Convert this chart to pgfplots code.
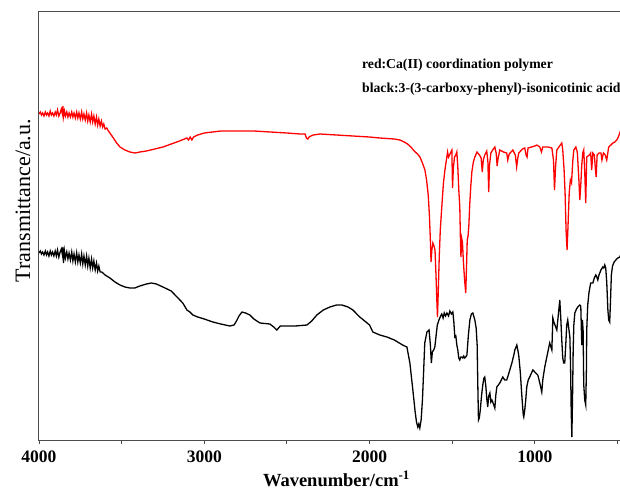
\documentclass[border=0pt]{standalone}
\usepackage{pgfplots}
\pgfplotsset{compat=1.18}
\usepackage{fontspec}
\setmainfont{Liberation Serif}
\begin{document}
\begin{tikzpicture}
\useasboundingbox (0,0) rectangle (620pt,490pt);
\begin{axis}[
  at={(39pt,50pt)}, anchor=south west,
  scale only axis, width=595pt, height=429pt,
  xmin=400, xmax=4000, x dir=reverse,
  ymin=11, ymax=440, y dir=reverse,
  xtick={1000,2000,3000,4000},
  minor xtick={500,1500,2500,3500},
  xtick pos=left,
  tick align=outside,
  major tick length=4pt, minor tick length=4pt,
  ytick=\empty,
  axis line style={black!70, line width=1pt},
  every tick/.style={black!70, line width=0.9pt},
  /pgf/number format/assume math mode=true,
  /pgf/number format/1000 sep={},
  xticklabel style={font=\fontsize{17.5}{19}\selectfont\bfseries, yshift=-3pt},
  xlabel={Wavenumber/cm\textsuperscript{-1}},
  ylabel={Transmittance/a.u.},
  every axis x label/.style={at={(axis description cs:0.5,0)}, anchor=base, yshift=-46pt, font=\fontsize{18.5}{20}\selectfont\bfseries},
  every axis y label/.style={at={([xshift=-5pt]axis description cs:0,0.558)}, rotate=90, anchor=south, font=\fontsize{22}{24}\selectfont},
  clip mode=individual,
]
\addplot[red, line width=1.3pt] table {
4000 114
3992 112
3985 115
3978 113
3970 116
3962 112
3955 115
3948 113
3940 116
3932 111
3925 115
3918 113
3910 116
3902 112
3895 115
3888 110
3880 116
3872 113
3865 109
3858 114
3855 106
3852 117
3846 111
3840 116
3832 112
3825 117
3818 113
3810 117
3802 112
3795 117
3788 113
3780 118
3772 112
3765 118
3758 113
3750 119
3742 112
3735 119
3728 114
3720 120
3712 113
3705 121
3698 115
3690 122
3682 114
3675 122
3668 116
3660 124
3652 117
3645 125
3638 119
3630 126
3622 121
3615 127
3608 124
3600 129
3590 128
3580 131
3571 133
3550 138
3530 143
3510 147
3480 150
3450 152
3420 153
3390 152
3350 151
3300 149
3250 147
3200 144
3150 141
3105 138
3095 140
3085 137
3075 140
3065 137
3040 135
3000 133
2950 132
2900 131
2800 131
2700 131
2600 132
2500 133
2420 134
2390 134
2382 138
2374 139
2366 137
2355 136
2340 135
2300 134
2200 135
2100 136
2000 137
1938 138
1850 139
1817 140
1790 142
1770 144
1750 147
1730 151
1710 154
1695 157
1680 163
1665 170
1655 180
1645 195
1638 215
1632 240
1628 262
1623 250
1617 243
1610 246
1604 250
1598 275
1593 300
1589 317
1584 290
1578 255
1572 230
1563 207
1553 183
1544 170
1535 160
1528 152
1522 157
1516 155
1508 152
1502 150
1498 188
1493 168
1486 157
1478 155
1472 152
1466 167
1460 190
1454 207
1450 240
1447 257
1443 238
1438 242
1432 262
1425 280
1418 293
1413 265
1409 240
1404 236
1399 225
1394 205
1387 185
1381 172
1372 162
1363 157
1350 152
1335 155
1325 158
1318 172
1312 160
1303 155
1291 151
1284 162
1279 192
1274 165
1266 153
1255 150
1242 147
1234 153
1228 166
1222 158
1212 150
1190 152
1170 153
1164 160
1155 154
1133 150
1118 155
1110 167
1103 158
1097 153
1075 149
1061 148
1053 155
1047 157
1041 148
1020 147
1000 146
988 145
970 147
960 152
952 147
920 147
897 148
887 160
881 190
875 168
867 150
850 146
837 143
831 150
823 170
817 193
811 230
805 250
799 225
792 193
785 180
778 183
770 160
764 150
752 147
743 152
734 178
728 200
722 185
716 165
710 153
704 150
698 172
692 203
686 157
670 155
662 153
656 170
649 153
640 155
634 168
629 177
623 155
612 153
600 153
594 160
585 153
574 155
565 160
553 147
540 145
528 143
516 142
504 140
495 137
486 133
470 125
450 118
420 112
400 110
};
\addplot[black, line width=1.3pt] table {
4000 253
3992 251
3985 254
3978 252
3970 255
3962 251
3955 255
3948 252
3940 256
3932 251
3925 255
3918 252
3910 256
3902 251
3895 256
3888 250
3880 257
3872 252
3865 249
3858 255
3855 247
3852 263
3846 251
3840 258
3832 252
3825 259
3818 253
3810 260
3802 252
3795 261
3788 254
3780 262
3772 253
3765 262
3758 255
3750 263
3742 254
3735 264
3728 256
3720 265
3712 256
3705 266
3698 258
3690 268
3682 259
3675 268
3668 261
3660 270
3652 263
3645 271
3638 266
3630 272
3620 272
3600 275
3571 278
3540 282
3510 285
3480 287
3450 288
3420 288
3390 286
3350 284
3320 283
3290 284
3250 287
3200 291
3165 297
3130 303
3105 310
3087 312
3069 315
3040 317
3000 319
2948 322
2900 324
2845 326
2820 325
2805 321
2790 316
2772 312
2750 313
2724 315
2700 319
2663 323
2603 324
2580 327
2561 330
2540 326
2524 326
2450 326
2379 325
2350 321
2319 315
2280 310
2240 307
2200 305
2167 305
2130 307
2101 310
2059 317
2000 325
1980 332
1938 335
1895 337
1850 340
1800 345
1774 347
1756 363
1738 390
1724 412
1716 422
1708 427
1702 424
1696 428
1688 420
1680 400
1672 368
1666 343
1653 332
1640 330
1632 345
1626 363
1620 352
1612 350
1605 347
1597 335
1590 325
1580 320
1570 316
1563 314
1555 318
1548 313
1540 316
1532 313
1522 316
1514 311
1505 314
1496 312
1490 322
1484 337
1478 336
1472 345
1466 350
1460 358
1454 360
1448 357
1442 357
1436 358
1430 356
1424 358
1418 357
1411 355
1402 335
1393 320
1384 314
1375 313
1363 320
1355 328
1349 345
1345 385
1341 420
1336 418
1330 410
1322 395
1315 385
1308 378
1303 377
1297 385
1291 398
1285 407
1279 396
1272 393
1266 402
1260 400
1248 405
1242 408
1236 395
1230 387
1212 383
1194 377
1182 380
1170 380
1155 372
1139 363
1127 355
1121 350
1109 345
1103 350
1097 356
1088 372
1079 395
1070 415
1067 417
1061 410
1055 400
1049 387
1040 380
1031 377
1012 370
1000 372
988 374
982 375
970 383
958 392
952 380
940 367
925 355
910 343
897 350
891 318
885 322
878 325
867 330
858 315
849 300
843 318
837 340
831 358
825 363
819 363
813 345
807 325
801 320
795 328
788 337
784 365
780 410
776 437
772 400
768 350
764 325
758 313
748 309
740 307
728 305
722 306
716 345
712 320
708 330
704 385
698 400
692 405
688 370
686 330
680 305
672 292
662 283
649 283
640 278
631 275
625 277
619 280
612 275
600 270
589 267
583 268
577 265
571 268
565 282
558 310
553 320
547 322
542 300
537 275
530 266
520 262
510 260
498 258
486 257
470 250
450 245
420 240
400 238
};
\node[anchor=base west, inner sep=0pt, font=\fontsize{13.7}{15}\selectfont\bfseries] at (axis cs:2046,68) {red:Ca(II) coordination polymer};
\node[anchor=base west, inner sep=0pt, font=\fontsize{13.7}{15}\selectfont\bfseries] at (axis cs:2046,92) {black:3-(3-carboxy-phenyl)-isonicotinic acid};
\end{axis}
\end{tikzpicture}
\end{document}
